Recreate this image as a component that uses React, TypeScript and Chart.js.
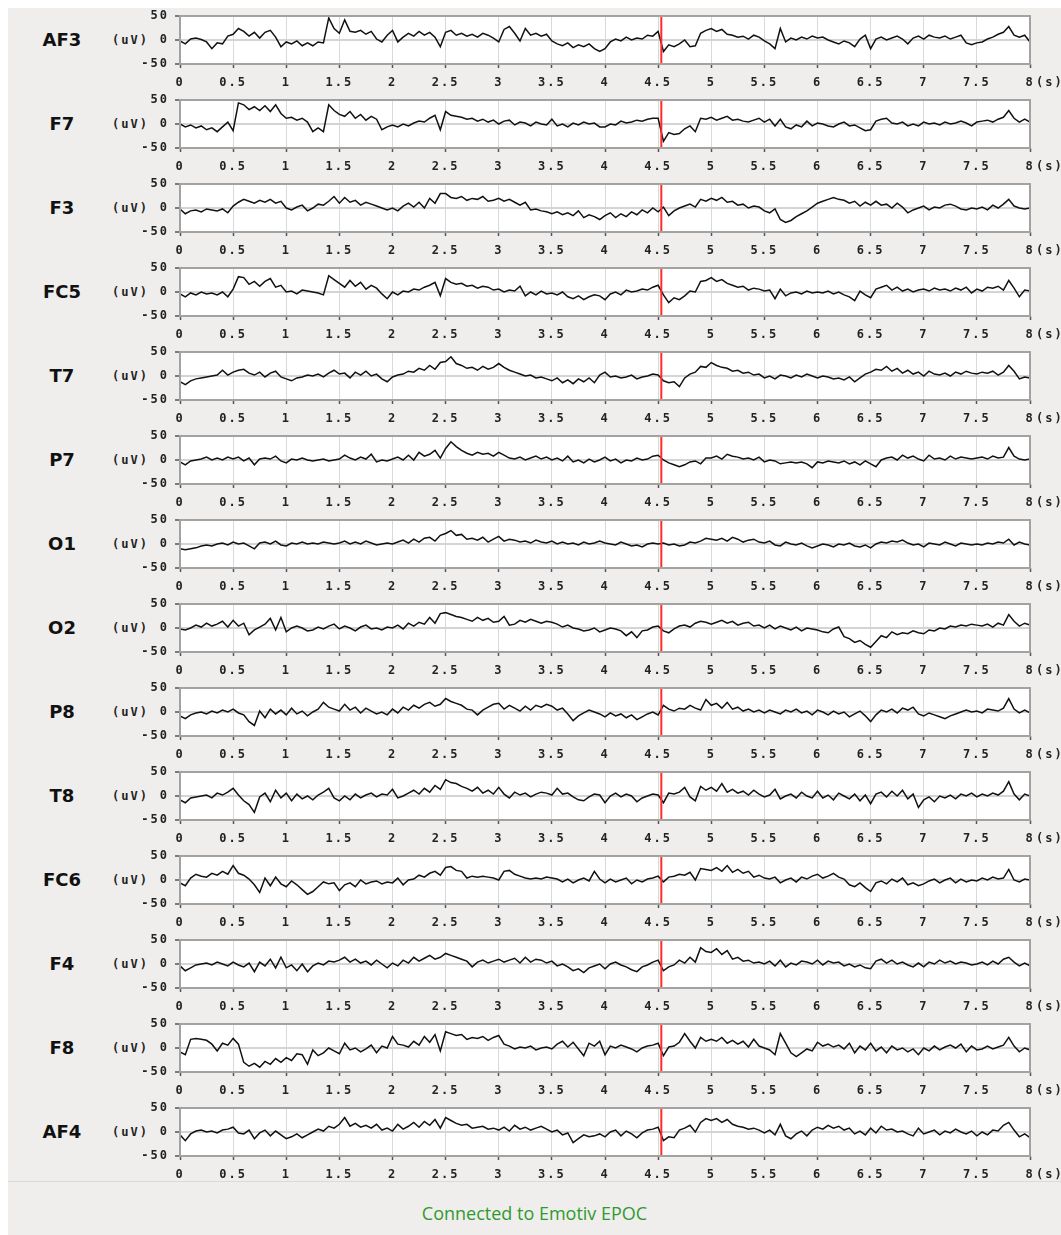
import React, { useEffect, useRef } from "react";
import { Chart, registerables } from "chart.js";

Chart.register(...registerables);

// ---- data -------------------------------------------------------------
const CHANNELS = ["AF3", "F7", "F3", "FC5", "T7", "P7", "O1", "O2", "P8", "T8", "FC6", "F4", "F8", "AF4"];
const SAMPLE_STEP_S = 0.05; // spacing of samples in seconds
const X_MIN = 0;
const X_MAX = 8;
const X_TICK_STEP = 0.5;
const Y_MIN = -50;
const Y_MAX = 50;
const Y_TICK_STEP = 50;
const MARKER_TIME = 4.53;
const STATUS_TEXT = "Connected to Emotiv EPOC";

const AF3 = [
  -2, -8, 2, 4, 1, -4, -18, -6, -8, 8,
  12, 24, 18, 8, 16, 4, 16, 20, 6, -14,
  -4, -8, -2, -12, -6, -12, -4, -6, 46, 24,
  14, 42, 18, 16, 20, 12, 18, 2, -4, 10,
  20, -4, 6, 14, 8, 18, 10, 16, 6, -14,
  16, 20, 10, 14, 8, 12, 6, 14, 10, 4,
  -4, 22, 28, 14, -2, 24, 10, 14, 8, 12,
  -2, -8, -12, -6, -16, -10, -14, -8, -18, -24,
  -18, -4, 2, -2, 6, 0, 4, 2, 10, 8,
  18, -24, -10, -14, -8, 0, -14, -12, 14, 20,
  24, 18, 22, 12, 10, 6, 8, 2, 10, 6,
  -2, -8, -18, 24, -4, 4, 0, 6, 2, 8,
  4, 6, 0, -4, -8, -2, -6, -14, 2, 10,
  -18, 2, 6, 0, 4, 8, 2, -8, 4, 8,
  2, 10, 6, 4, 8, 2, 6, 10, -6, -10,
  -6, -4, 2, 6, 12, 16, 28, 10, 6, 10,
  -4,
];
const F7 = [
  0, -6, -2, -8, -4, -12, -8, -16, -6, 4,
  -14, 44, 40, 30, 36, 28, 38, 26, 40, 22,
  12, 14, 8, 12, 4, -16, -8, -16, 40, 28,
  20, 16, 26, 12, 20, 8, 16, 10, -12, -6,
  -2, -6, 0, -4, 2, 6, 4, 12, 18, -12,
  26, 18, 16, 14, 10, 12, 6, 10, 4, 8,
  0, 6, 8, -2, 4, 2, -4, 4, 0, -2,
  10, -4, 0, -6, 2, -2, 4, 0, 2, -6,
  -6, 0, -2, 6, 2, 4, 8, 6, 10, 12,
  12, -36, -18, -22, -20, -10, -4, -16, 12, 10,
  14, 8, 12, 16, 8, 10, 6, 4, 8, 12,
  4, 10, -4, 10, -6, -10, -2, -6, 6, -4,
  2, 0, -4, -6, 0, 4, -4, -2, -8, -14,
  -12, 6, 10, 12, 2, 0, 4, -4, 0, -4,
  4, 0, 2, -2, 4, 0, 2, 6, 2, -4,
  4, 6, 8, 4, 10, 14, 28, 12, 4, 10,
  4,
];
const F3 = [
  -2, -12, -6, -4, -8, -2, -4, -6, -2, -10,
  4, 12, 18, 14, 10, 16, 12, 18, 10, 14,
  0, -4, 2, 6, -6, 0, 8, 6, 14, 24,
  10, 22, 12, 16, 6, 12, 8, 4, 0, -4,
  0, -6, 4, 10, 2, 12, 0, 20, 10, 30,
  30, 22, 20, 24, 16, 20, 18, 24, 14, 16,
  20, 14, 18, 12, 6, 12, -4, -2, -6, -8,
  -12, -8, -14, -10, -16, -6, -20, -14, -18, -24,
  -16, -10, -20, -12, -18, -8, -14, -4, -10, 0,
  -8, 2, -16, -6, 0, 4, 8, 2, 18, 14,
  20, 16, 22, 12, 14, 6, 8, 0, 4, 2,
  -6, -10, -2, -24, -30, -26, -18, -12, -6, 2,
  10, 14, 18, 22, 18, 16, 10, 14, 4, 12,
  6, 14, 6, 8, 0, 10, 2, -10, -4, 0,
  4, -4, 2, 0, 6, 8, 4, -2, -4, 0,
  -2, 2, -4, 6, 0, 8, 18, 4, 0, -2,
  0,
];
const FC5 = [
  -4, -10, -2, -6, 0, -4, -2, -6, 0, -10,
  6, 32, 30, 16, 22, 12, 22, 28, 10, 14,
  0, 2, -4, 4, 2, 0, -2, -6, 34, 26,
  18, 10, 24, 12, 20, 6, 14, 8, -4, -14,
  0, -6, 2, 0, 6, 4, 10, 14, 20, -8,
  28, 20, 16, 18, 12, 14, 8, 12, 10, 4,
  6, 0, 4, 2, 12, -8, 0, -6, 2, -4,
  -2, -6, 0, -10, -14, -8, -16, -10, -6, -8,
  -16, -4, 0, -6, 4, 0, 2, 6, 4, 10,
  14, -6, -22, -12, -16, -8, 2, 0, 22, 24,
  30, 22, 26, 18, 14, 10, 12, 4, 8, 6,
  2, 4, -14, 6, -8, -2, 0, -4, 2, -2,
  0, -2, 2, -4, 0, -6, -10, -18, 2, -6,
  -12, 6, 10, 14, 4, 10, 2, 6, 0, 4,
  6, 2, 8, 4, 6, 2, 8, 4, 10, -2,
  6, 2, 10, 8, 12, 4, 24, 8, -10, 4,
  2,
];
const T7 = [
  -12, -18, -10, -6, -4, -2, 0, 2, 12, 2,
  8, 12, 14, 6, 2, 8, -2, 6, 10, -2,
  -6, -10, -4, -2, 2, 0, 4, -2, 6, 12,
  4, 6, -4, 8, 2, 10, 0, 4, -6, -12,
  -2, 2, 4, 10, 8, 16, 12, 22, 14, 28,
  30, 40, 26, 22, 16, 18, 12, 20, 14, 18,
  26, 18, 12, 8, 4, 0, 2, -4, -2, -6,
  -10, -4, -14, -8, -16, -6, -12, -4, -14, 2,
  8, -2, 0, -4, -2, 2, -6, -2, 0, 4,
  2, -10, -14, -12, -22, -4, 4, 8, 20, 18,
  28, 22, 18, 16, 10, 12, 6, 8, 2, 4,
  -4, 0, -6, 2, 0, -4, 2, -2, 4, 0,
  -4, 0, -2, -6, -4, -8, -2, -12, -4, 4,
  8, 14, 12, 20, 10, 16, 6, 12, 4, 8,
  0, 10, 4, 2, 6, 0, 8, 4, 10, 6,
  4, 8, 6, 10, 2, 8, 22, 10, -6, -2,
  -4,
];
const P7 = [
  -4, -10, -2, 0, 2, 6, 0, 4, 0, 6,
  2, 6, -2, 4, -10, 2, 4, 2, 8, -2,
  -6, 2, 0, 4, 0, -2, 0, 2, -2, 0,
  2, 10, 4, 0, 6, 2, 12, -4, 0, -2,
  2, 6, 0, 10, 0, 16, 8, 12, 20, 4,
  24, 38, 28, 20, 14, 10, 16, 12, 14, 8,
  16, 10, 4, 2, 6, 0, 4, 8, 2, 6,
  0, 4, -2, 8, -4, 0, -6, 2, -4, 0,
  6, -2, 2, -6, 0, -2, 4, 0, 2, 8,
  10, 0, -6, -10, -14, -10, -4, -2, -8, 4,
  4, 8, 2, 12, 8, 6, 2, 4, 0, 6,
  -4, 0, -2, -8, -6, -4, -6, -4, -8, -16,
  -4, -6, -2, -4, -6, -2, -8, -4, -10, -2,
  -8, -14, 0, 4, 6, 0, 10, 4, 8, 2,
  -2, 10, 2, 4, 0, 8, 2, 6, 4, 2,
  4, 6, 2, 8, 4, 6, 26, 8, 2, 0,
  2,
];
const O1 = [
  -10, -12, -10, -8, -4, -2, -4, 0, 2, -2,
  4, 0, 2, -4, -10, 2, 4, 0, 6, -2,
  -4, 2, 0, 4, 0, 2, 0, 4, 2, 0,
  2, 6, 0, 4, 0, 6, 2, -2, 0, 2,
  0, 4, 8, 2, 10, 4, 12, 14, 6, 18,
  22, 28, 18, 20, 10, 12, 8, 14, 4, 10,
  16, 6, 10, 8, 4, 6, 2, 8, 4, 2,
  6, 0, 4, 0, 2, -2, 4, 0, 2, 6,
  2, 0, -2, 4, 0, -4, -2, -6, 0, 2,
  0, 2, -2, 0, -4, -2, 4, 2, 6, 12,
  10, 8, 12, 6, 14, 10, 4, 8, 10, 4,
  2, 6, -2, -4, 4, 0, -2, 2, -4, -8,
  -4, 0, -2, -6, 0, -2, 2, -4, -6, -2,
  -8, 0, 4, 2, 6, 4, 8, 2, -2, 0,
  -6, 2, 0, -2, 4, 0, -4, 2, 0, -2,
  0, -2, 2, 0, 4, 2, 10, -2, 4, 0,
  -2,
];
const O2 = [
  -2, -4, 0, 6, 2, 10, 4, 8, 14, 2,
  16, 4, 10, -14, -4, 2, 8, 20, -4, 22,
  -8, 0, 4, 0, -6, -4, 2, -2, 4, 8,
  -2, 4, 0, -6, 2, 6, -2, 0, -4, 2,
  0, 6, -2, 10, 4, 12, 8, 22, 10, 30,
  32, 28, 24, 22, 18, 14, 22, 16, 20, 12,
  14, 24, 6, 8, 16, 12, 18, 14, 10, 14,
  12, 8, 2, 6, 0, -2, -6, -4, 0, -8,
  -4, 0, -2, -6, -16, -8, -20, -6, -4, 2,
  4, -6, -10, -2, 4, 6, 2, 10, 14, 12,
  8, 12, 16, 10, 14, 6, 10, 12, 4, 6,
  0, 6, -2, 4, 0, -4, 2, -6, 0, -2,
  -4, -8, -10, -2, 2, -18, -22, -30, -26, -34,
  -40, -28, -16, -20, -8, -14, -10, -12, -6, -10,
  -12, -4, -6, 0, -2, 4, 2, 6, 4, 8,
  6, 4, 8, 2, 10, 6, 28, 14, 4, 10,
  6,
];
const P8 = [
  -8, -14, -6, -2, 0, -4, 2, -2, 4, 0,
  6, -2, -6, -20, -28, 2, -12, 6, -4, 4,
  -6, 8, -4, 2, -8, 0, 6, 20, 10, 6,
  2, 16, 4, 10, -2, 8, 2, -4, 0, -6,
  6, -2, 10, 4, 14, 8, 16, 20, 12, 16,
  28, 22, 18, 14, 6, 4, -6, 4, 10, 16,
  18, 6, 14, 8, 2, 12, 4, 14, 10, 16,
  12, 4, 8, -4, -18, -8, -2, 4, 0, -4,
  -10, -2, -8, -4, -12, -6, -16, -10, -4, 0,
  -6, 14, 6, 2, 8, 6, 14, 8, 4, 26,
  14, 18, 8, 20, 6, 10, 2, 6, 0, 4,
  -2, 4, 0, -4, 4, 0, 6, -2, 2, -6,
  4, 0, -6, 2, -4, 0, -10, -4, 2, -8,
  -20, -6, 4, 0, 6, -2, 8, 4, 10, -4,
  -8, -2, -6, -10, -14, -8, -4, 0, 4, 0,
  2, -2, 6, 4, 2, 8, 28, 6, -2, 4,
  -2,
];
const T8 = [
  -8, -14, -4, -2, 0, 2, -4, 6, 2, 8,
  16, 2, -10, -18, -34, -2, 6, -12, 12, -4,
  6, -10, 4, -6, 0, -8, 2, 8, 16, -4,
  -10, 0, -8, 4, -4, 2, 6, -2, 4, 2,
  14, -4, 0, 6, 12, 4, 16, 8, 22, 14,
  34, 28, 26, 20, 16, 10, 18, 6, 12, 4,
  18, 4, -4, 8, 2, 6, -2, 4, 8, 6,
  2, 16, 4, 6, -2, -8, -10, -2, 4, 2,
  -14, 0, 6, -2, 4, 0, -12, -4, 0, 4,
  2, -14, 6, 4, 8, 18, -2, -10, 20, 12,
  18, 10, 26, 8, 14, 6, 10, 2, 12, 4,
  -2, 2, 14, -6, 0, 4, -4, 8, 0, -4,
  10, -4, 2, -8, 6, 0, -6, 4, -10, 2,
  -16, 4, 8, -2, 10, 0, 12, -6, 4, -24,
  -8, -2, -12, 0, -4, 2, -6, 4, 0, 6,
  -2, 4, 0, 6, 2, 10, 30, 4, -8, 4,
  0,
];
const FC6 = [
  -6, -12, 4, 12, 8, 6, 14, 10, 18, 12,
  30, 14, 10, 2, -10, -26, 4, -12, 6, -8,
  -14, -2, -10, -20, -30, -24, -14, -4, -8, -6,
  -22, -10, -6, -14, 0, -8, -4, -2, -8, -4,
  -6, 4, -10, 0, 2, 10, 6, 14, 18, 10,
  26, 28, 20, 18, 4, 8, 6, 8, 6, 4,
  0, 18, 20, 12, 8, 4, 2, 4, 2, 6,
  4, 2, -4, 2, -6, 0, 4, -2, 18, 2,
  -6, 2, -4, 0, 4, -8, 0, -4, 2, 4,
  8, -4, 6, 8, 12, 10, 16, 0, 24, 22,
  20, 26, 18, 30, 16, 22, 14, 18, 6, 10,
  4, 2, 6, -6, 0, 4, -4, 6, 2, 8,
  12, 4, 8, 14, 6, 2, -10, -14, -6, -16,
  -24, -6, -2, -8, 2, -4, 4, -10, -6, -12,
  -8, -2, 2, -6, 0, 4, -6, 2, -4, 0,
  -2, 4, 0, 6, 2, 4, 22, 0, -4, 2,
  0,
];
const F4 = [
  -4, -14, -8, -2, 0, 2, -2, 4, 0, -4,
  4, -2, -6, 2, -16, 4, -4, 10, -8, 14,
  -8, -2, -14, 0, -16, -4, 2, -2, 6, 4,
  8, 14, 4, 10, 2, 6, -2, 8, 0, -8,
  2, -4, 8, 2, 14, 6, 12, 18, 10, 14,
  22, 18, 14, 10, 6, -6, 4, 8, 2, 6,
  10, 4, 8, 12, 2, 14, 4, 10, 8, 2,
  6, -4, 0, -6, -14, -10, -18, -8, -4, 0,
  -10, 0, 4, -2, -6, -12, -16, -6, -2, 4,
  8, -14, -6, -2, 8, 2, 14, 4, 34, 26,
  24, 32, 20, 28, 10, 14, 6, 8, 2, 4,
  0, 6, -4, 8, -6, 2, -2, 6, 4, 0,
  8, -2, 6, 2, 4, -4, 0, -6, -2, -8,
  -10, 6, 10, 2, 8, 0, 4, -2, -6, 2,
  -6, 4, 0, 8, 2, 6, 0, 4, 2, -2,
  0, 4, -2, 6, 0, 10, 14, 4, -4, 2,
  -4,
];
const F8 = [
  -8, -14, 18, 20, 18, 16, 8, -6, 10, 6,
  20, 8, -30, -38, -32, -40, -28, -34, -22, -30,
  -20, -26, -12, -14, -34, -4, -16, -10, 0, -6,
  -12, 10, -4, 0, -8, -2, 6, -10, 4, 0,
  24, 8, 6, 2, 14, 6, 24, 12, 28, -6,
  34, 30, 26, 28, 18, 22, 20, 24, 16, 22,
  26, 8, 4, -2, 2, 0, 4, -4, 0, 2,
  -2, 8, 14, 2, 12, -2, -16, 10, 4, 14,
  -14, 4, 0, 6, 2, -2, -8, 0, 4, 6,
  10, -16, 2, 4, 12, 30, 14, 0, 22, 14,
  18, 14, 22, 10, 16, 8, 14, 2, 18, 4,
  0, -4, -14, 30, 10, -10, -18, -10, -2, -6,
  12, 4, 8, 2, 6, -2, 10, -10, 4, -4,
  10, -6, 2, -10, 4, -4, 0, -8, -2, -14,
  0, -6, 4, -4, 2, 6, 0, 8, -8, 4,
  -4, -2, 4, -2, 2, 6, 22, 4, -8, 0,
  -4,
];
const AF4 = [
  -6, -18, -4, 2, 4, 0, 2, -2, 4, 6,
  10, -2, -4, 4, -14, -2, 4, -8, 2, -6,
  -14, -10, -4, -12, -6, 0, 6, 2, 12, 8,
  16, 30, 12, 18, 10, 14, 8, 16, 4, 8,
  2, 16, 6, 12, 20, 10, 22, 14, 26, 8,
  30, 24, 18, 14, 16, 8, 10, 12, 6, 8,
  4, 10, 2, 14, 6, 10, 4, 8, 12, 6,
  0, 4, -6, -2, -22, -14, -6, -10, -8, -4,
  -10, 0, 4, -8, 2, -4, -12, -2, 4, 6,
  10, -18, -10, -12, 4, 8, 14, 0, 20, 28,
  24, 28, 20, 26, 16, 12, 10, 6, 8, 4,
  -2, 4, -6, 16, -8, -14, -4, 2, -8, 4,
  10, 6, 14, 8, 12, 4, 8, -4, 2, -6,
  8, -2, 12, 4, 6, 0, 2, -4, -8, 8,
  -4, 0, 4, -6, 2, -2, 6, 0, -4, 2,
  -8, 0, -6, 4, 2, 14, 20, 4, -10, -4,
  -12,
];

const SERIES: number[][] = [AF3, F7, F3, FC5, T7, P7, O1, O2, P8, T8, FC6, F4, F8, AF4];

// ---- layout / style -----------------------------------------------------
const ROW_PITCH = 84;
const CANVAS_LEFT = 100;
const CANVAS_W = 950;
const CANVAS_H = 84;
const PLOT_TOP = 8;
const Y_AXIS_W = 72;
const X_AXIS_H = 28;
const PAD_RIGHT = 28;
const BG = "#efeeed";
const MONO = '"DejaVu Sans Mono", monospace';
const TICK_COLOR = "#222";

const framePlugin = {
  id: "frame",
  beforeDraw(chart: any) {
    const { ctx, chartArea } = chart;
    ctx.save();
    ctx.fillStyle = "#ffffff";
    ctx.fillRect(chartArea.left, chartArea.top, chartArea.right - chartArea.left, chartArea.bottom - chartArea.top);
    ctx.restore();
    ctx.letterSpacing = "2px";
  },
  afterDatasetsDraw(chart: any) {
    const { ctx, chartArea } = chart;
    ctx.save();
    ctx.strokeStyle = "#a2a2a2";
    ctx.lineWidth = 2;
    ctx.strokeRect(chartArea.left, chartArea.top, chartArea.right - chartArea.left, chartArea.bottom - chartArea.top);
    ctx.restore();
  },
  afterDraw(chart: any) {
    chart.ctx.letterSpacing = "0px";
  },
};

function EegRow({ values, index }: { values: number[]; index: number }) {
  const ref = useRef<HTMLCanvasElement>(null);
  useEffect(() => {
    const points = values.map((v, i) => ({ x: Math.round(i * SAMPLE_STEP_S * 100) / 100, y: v }));
    const tickFont = { family: MONO, size: 12, weight: "bold" as const };
    const chart = new Chart(ref.current!, {
      type: "line",
      data: {
        datasets: [
          {
            data: [
              { x: MARKER_TIME, y: Y_MIN },
              { x: MARKER_TIME, y: Y_MAX },
            ],
            borderColor: "#ff2b2b",
            borderWidth: 2,
            pointRadius: 0,
          },
          {
            data: points,
            borderColor: "#111111",
            borderWidth: 1.5,
            pointRadius: 0,
            tension: 0,
          },
        ],
      },
      options: {
        animation: false,
        responsive: false,
        maintainAspectRatio: false,
        devicePixelRatio: 1,
        events: [],
        layout: { padding: { top: PLOT_TOP, right: PAD_RIGHT, left: 0, bottom: 0 } },
        plugins: { legend: { display: false }, tooltip: { enabled: false } },
        scales: {
          x: {
            type: "linear",
            min: X_MIN,
            max: X_MAX,
            ticks: {
              stepSize: X_TICK_STEP,
              autoSkip: false,
              maxRotation: 0,
              font: tickFont,
              color: TICK_COLOR,
              padding: 8,
              callback: (v: any) => String(v),
            },
            grid: { color: "#d9d9d9", lineWidth: 1, tickColor: "#555", tickLength: 4, tickWidth: 1.5 },
            border: { display: false },
            afterFit: (s: any) => {
              s.height = X_AXIS_H;
              s.paddingLeft = 0;
              s.paddingRight = 0;
            },
          },
          y: {
            type: "linear",
            min: Y_MIN,
            max: Y_MAX,
            ticks: {
              stepSize: Y_TICK_STEP,
              font: tickFont,
              color: TICK_COLOR,
              padding: 6,
              callback: (v: any) => String(v),
            },
            grid: { color: "#d4d4d4", lineWidth: 2, tickColor: "#555", tickLength: 5, tickWidth: 1.5 },
            border: { display: false },
            afterFit: (s: any) => {
              s.width = Y_AXIS_W;
              s.paddingTop = 0;
              s.paddingBottom = 0;
            },
          },
        },
      } as any,
      plugins: [framePlugin],
    });
    return () => chart.destroy();
  }, [values]);
  return (
    <canvas
      ref={ref}
      width={CANVAS_W}
      height={CANVAS_H}
      style={{ position: "absolute", left: CANVAS_LEFT, top: ROW_PITCH * index, width: CANVAS_W, height: CANVAS_H, display: "block" }}
    />
  );
}

export default function App() {
  return (
    <div
      style={{
        position: "absolute",
        left: 8,
        top: 8,
        width: 1053,
        height: 1227,
        background: BG,
        overflow: "hidden",
      }}
    >
      {CHANNELS.map((name, i) => {
        const mid = ROW_PITCH * i + PLOT_TOP + 24;
        return (
          <React.Fragment key={name}>
            <div
              style={{
                position: "absolute",
                left: 14,
                width: 80,
                top: mid - 12,
                height: 24,
                lineHeight: "24px",
                textAlign: "center",
                fontFamily: '"DejaVu Sans", sans-serif',
                fontWeight: "bold",
                fontSize: 18,
                color: "#111",
              }}
            >
              {name}
            </div>
            <div
              style={{
                position: "absolute",
                left: 79,
                width: 62,
                top: mid - 8,
                height: 16,
                lineHeight: "16px",
                textAlign: "right",
                fontFamily: MONO,
                fontWeight: "bold",
                fontSize: 12,
                letterSpacing: 2,
                color: TICK_COLOR,
              }}
            >
              (uV)
            </div>
            <EegRow values={SERIES[i]} index={i} />
            <div
              style={{
                position: "absolute",
                left: 1028,
                top: ROW_PITCH * i + 66,
                height: 16,
                lineHeight: "16px",
                fontFamily: MONO,
                fontWeight: "bold",
                fontSize: 12,
                letterSpacing: 2,
                color: TICK_COLOR,
                whiteSpace: "nowrap",
              }}
            >
              (s)
            </div>
          </React.Fragment>
        );
      })}
      <div style={{ position: "absolute", left: 0, top: 1173, width: 1053, height: 1, background: "#dadada" }} />
      <div
        style={{
          position: "absolute",
          left: 0,
          top: 1192,
          width: 1053,
          height: 26,
          lineHeight: "26px",
          textAlign: "center",
          fontFamily: '"Open Sans", "Noto Sans", sans-serif',
          fontSize: 18,
          color: "#2f9a2f",
        }}
      >
        {STATUS_TEXT}
      </div>
    </div>
  );
}
